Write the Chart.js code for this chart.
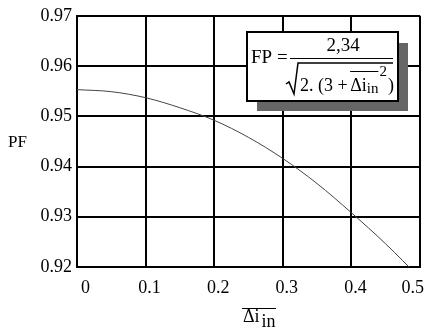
<!DOCTYPE html>
<html>
<head>
<meta charset="utf-8">
<script src="https://cdn.jsdelivr.net/npm/chart.js@4"></script>
<style>
  html, body { margin: 0; padding: 0; background: #fff; }
  #wrap { width: 424px; height: 330px; position: relative; }
</style>
</head>
<body>
<div id="wrap"><canvas id="pfChart" width="424" height="330"></canvas></div>
<script>
// values
const deltaI = [0, 0.05, 0.1, 0.15, 0.2, 0.25, 0.3, 0.35, 0.4, 0.45, 0.5];
const pf = [0.9553, 0.9549, 0.9537, 0.9517, 0.9492, 0.9458, 0.9416, 0.9366, 0.9308, 0.9246, 0.9178];

const xTickLabels = ['0', '0.1', '0.2', '0.3', '0.4', '0.5'];
const yTickLabels = ['0.92', '0.93', '0.94', '0.95', '0.96', '0.97'];

const serif = '"Liberation Serif", "DejaVu Serif", serif';

// draws PF label, x title and the formula box
const extras = {
    id: 'extras',
    afterDraw(chart) {
        const ctx = chart.ctx;
        ctx.save();
        ctx.fillStyle = '#000';
        ctx.strokeStyle = '#000';

        // y title
        ctx.font = '17px ' + serif;
        ctx.textBaseline = 'middle';
        ctx.textAlign = 'left';
        ctx.fillText('PF', 8, 143);

        // x title: overline delta i, subscript in
        ctx.font = '18px ' + serif;
        ctx.textBaseline = 'alphabetic';
        ctx.fillText('\u0394i', 243, 322);
        let w = ctx.measureText('\u0394i').width;
        ctx.fillText('in', 245 + w, 327);
        ctx.lineWidth = 1;
        ctx.beginPath();
        ctx.moveTo(242, 308.5);
        ctx.lineTo(276, 308.5);
        ctx.stroke();

        // formula box shadow
        ctx.fillStyle = '#666';
        ctx.fillRect(257, 43, 151, 68);
        // box
        ctx.fillStyle = '#fff';
        ctx.fillRect(247, 32, 151, 69);
        ctx.lineWidth = 2;
        ctx.strokeRect(247, 32, 151, 69);

        ctx.fillStyle = '#000';
        ctx.font = '19px ' + serif;
        ctx.textBaseline = 'middle';
        ctx.textAlign = 'left';
        ctx.fillText('FP =', 251, 58);
        ctx.textAlign = 'center';
        ctx.fillText('2,34', 343, 46);

        ctx.lineWidth = 1;
        ctx.beginPath();
        ctx.moveTo(290, 58.5);
        ctx.lineTo(393, 58.5);
        ctx.stroke();

        // radical
        ctx.lineWidth = 1.5;
        ctx.beginPath();
        ctx.moveTo(286, 84);
        ctx.lineTo(289, 82);
        ctx.lineTo(294, 94);
        ctx.lineTo(298, 63);
        ctx.lineTo(393, 63);
        ctx.stroke();

        // denominator
        ctx.textAlign = 'left';
        ctx.textBaseline = 'alphabetic';
        ctx.font = '18px ' + serif;
        let x = 300;
        const base = 91;
        ctx.fillText('2. (3 + ', x, base);
        x += ctx.measureText('2. (3 + ').width - 2;
        const ovStart = x;
        ctx.fillText('\u0394i', x, base);
        x += ctx.measureText('\u0394i').width;
        ctx.font = '15px ' + serif;
        ctx.fillText('in', x, base + 2);
        x += ctx.measureText('in').width;
        ctx.lineWidth = 1;
        ctx.beginPath();
        ctx.moveTo(ovStart, 71.5);
        ctx.lineTo(x, 71.5);
        ctx.stroke();
        ctx.fillText('2', x + 1, 76);
        x += ctx.measureText('2').width + 2;
        ctx.font = '18px ' + serif;
        ctx.fillText(')', x, base);

        ctx.restore();
    }
};

new Chart(document.getElementById('pfChart'), {
    type: 'line',
    data: {
        datasets: [{
            data: deltaI.map((v, i) => ({ x: v, y: pf[i] })),
            borderColor: '#444',
            borderWidth: 1,
            pointRadius: 0,
            cubicInterpolationMode: 'monotone',
            fill: false
        }]
    },
    options: {
        responsive: false,
        animation: false,
        devicePixelRatio: 1,
        layout: { padding: { left: 0, top: 14, right: 4, bottom: 0 } },
        plugins: { legend: { display: false }, tooltip: { enabled: false } },
        scales: {
            x: {
                type: 'linear',
                min: 0,
                max: 0.5,
                afterFit(scale) {
                    scale.height = 63;
                    scale.paddingLeft = 0;
                    scale.paddingRight = 0;
                },
                afterBuildTicks(scale) {
                    scale.ticks = xTickLabels.map(t => ({ value: parseFloat(t) }));
                },
                ticks: {
                    color: '#000',
                    font: { family: serif, size: 18 },
                    padding: 10,
                    align: 'inner',
                    labelOffset: 4,
                    maxRotation: 0,
                    callback: (v, i) => xTickLabels[i]
                },
                grid: { color: '#000', lineWidth: 2, drawTicks: false },
                border: { color: '#000', width: 2 }
            },
            y: {
                type: 'linear',
                min: 0.92,
                max: 0.97,
                afterFit(scale) { scale.width = 77; },
                afterBuildTicks(scale) {
                    scale.ticks = yTickLabels.map(t => ({ value: parseFloat(t) }));
                },
                ticks: {
                    color: '#000',
                    font: { family: serif, size: 18 },
                    padding: 5,
                    callback: (v, i) => yTickLabels[i]
                },
                grid: { color: '#000', lineWidth: 2, drawTicks: false },
                border: { color: '#000', width: 2 }
            }
        }
    },
    plugins: [extras]
});
</script>
</body>
</html>
